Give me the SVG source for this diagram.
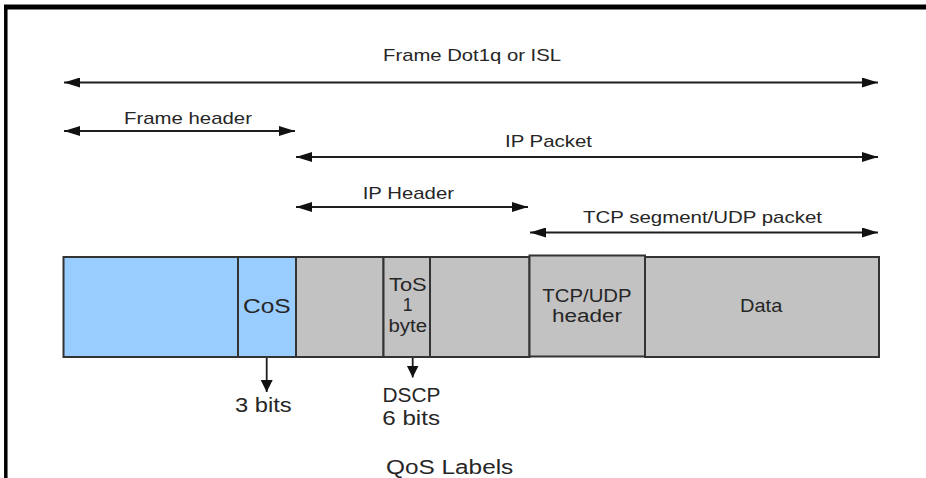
<svg xmlns="http://www.w3.org/2000/svg" width="926" height="478" viewBox="0 0 926 478">
  <style>
    .lbl { font-family: "Liberation Sans", Arial, sans-serif; fill: #262626; }
    .shaft { stroke: #1e1e1e; stroke-width: 1.8; fill: none; }
    .cell { stroke: #333333; stroke-width: 2; }
    .l2 { fill: #99ccff; }
    .l3 { fill: #c2c2c2; }
  </style>
  <defs>
    <marker id="head" viewBox="0 0 16 10" refX="16" refY="5" markerWidth="16" markerHeight="10" markerUnits="userSpaceOnUse" orient="auto-start-reverse">
      <path d="M0,0 L16,5 L0,10 Z" fill="#111111"/>
    </marker>
    <marker id="headDown" viewBox="0 0 12 14" refX="12" refY="6" markerWidth="12" markerHeight="14" markerUnits="userSpaceOnUse" orient="auto">
      <path d="M0,0 L12,6 L0,12 Z" fill="#111111"/>
    </marker>
  </defs>

  <rect width="926" height="478" fill="#ffffff"/>

  <!-- outer frame edge -->
  <g id="frame-edge">
    <line x1="4" y1="7" x2="926" y2="7" stroke="#000000" stroke-width="5"/>
    <line x1="5.8" y1="5" x2="5.8" y2="478" stroke="#000000" stroke-width="3.5"/>
  </g>

  <!-- span connectors -->
  <g id="connectors">
    <line class="shaft" x1="64" y1="82.5" x2="878" y2="82.5" marker-start="url(#head)" marker-end="url(#head)"/>
    <line class="shaft" x1="64" y1="131" x2="295" y2="131" marker-start="url(#head)" marker-end="url(#head)"/>
    <line class="shaft" x1="296" y1="157" x2="878" y2="157" marker-start="url(#head)" marker-end="url(#head)"/>
    <line class="shaft" x1="296" y1="207" x2="528" y2="207" marker-start="url(#head)" marker-end="url(#head)"/>
    <line class="shaft" x1="530" y1="232.5" x2="878" y2="232.5" marker-start="url(#head)" marker-end="url(#head)"/>
    <line class="shaft" x1="266.7" y1="357" x2="266.7" y2="392" marker-end="url(#headDown)"/>
    <line class="shaft" x1="412.7" y1="357" x2="412.7" y2="377.5" marker-end="url(#headDown)"/>
  </g>

  <!-- span labels -->
  <g id="span-labels">
    <text class="lbl" x="383" y="61" font-size="17" textLength="178" lengthAdjust="spacingAndGlyphs">Frame Dot1q or ISL</text>
    <text class="lbl" x="124" y="124" font-size="17" textLength="128" lengthAdjust="spacingAndGlyphs">Frame header</text>
    <text class="lbl" x="505" y="147" font-size="17" textLength="87" lengthAdjust="spacingAndGlyphs">IP Packet</text>
    <text class="lbl" x="362.7" y="199" font-size="17" textLength="91.3" lengthAdjust="spacingAndGlyphs">IP Header</text>
    <text class="lbl" x="583" y="223" font-size="17" textLength="239" lengthAdjust="spacingAndGlyphs">TCP segment/UDP packet</text>
  </g>

  <!-- frame fields -->
  <g id="field-l2-header">
    <rect class="cell l2" x="63.5" y="257" width="174.5" height="100"/>
  </g>
  <g id="field-cos">
    <rect class="cell l2" x="238" y="257" width="58" height="100"/>
    <text class="lbl" x="243" y="312.7" font-size="20" textLength="47.7" lengthAdjust="spacingAndGlyphs">CoS</text>
  </g>
  <g id="field-ip-pre">
    <rect class="cell l3" x="296" y="257" width="87.5" height="100"/>
  </g>
  <g id="field-tos">
    <rect class="cell l3" x="383.5" y="257" width="46.5" height="100"/>
    <text class="lbl" x="389" y="291" font-size="17.5" textLength="37.7" lengthAdjust="spacingAndGlyphs">ToS</text>
    <text class="lbl" x="407.5" y="311" font-size="17.5" text-anchor="middle">1</text>
    <text class="lbl" x="388.5" y="331.5" font-size="17.5" textLength="38.5" lengthAdjust="spacingAndGlyphs">byte</text>
  </g>
  <g id="field-ip-post">
    <rect class="cell l3" x="430" y="257" width="99.5" height="100"/>
  </g>
  <g id="field-l4-header">
    <rect class="cell l3" x="529.5" y="255.5" width="115.5" height="101"/>
    <text class="lbl" x="542.3" y="302.3" font-size="18" textLength="89.3" lengthAdjust="spacingAndGlyphs">TCP/UDP</text>
    <text class="lbl" x="552" y="321.7" font-size="18" textLength="70" lengthAdjust="spacingAndGlyphs">header</text>
  </g>
  <g id="field-data">
    <rect class="cell l3" x="645" y="257" width="234" height="100"/>
    <text class="lbl" x="740" y="312.3" font-size="18.5" textLength="42.3" lengthAdjust="spacingAndGlyphs">Data</text>
  </g>

  <!-- marking labels -->
  <g id="cos-bits">
    <text class="lbl" x="235" y="412.3" font-size="20" textLength="56.7" lengthAdjust="spacingAndGlyphs">3 bits</text>
  </g>
  <g id="dscp-bits">
    <text class="lbl" x="382.5" y="402" font-size="20" textLength="58" lengthAdjust="spacingAndGlyphs">DSCP</text>
    <text class="lbl" x="382.3" y="425" font-size="20" textLength="57.7" lengthAdjust="spacingAndGlyphs">6 bits</text>
  </g>
  <g id="caption">
    <text class="lbl" x="386" y="474" font-size="20" textLength="127.3" lengthAdjust="spacingAndGlyphs">QoS Labels</text>
  </g>
</svg>
